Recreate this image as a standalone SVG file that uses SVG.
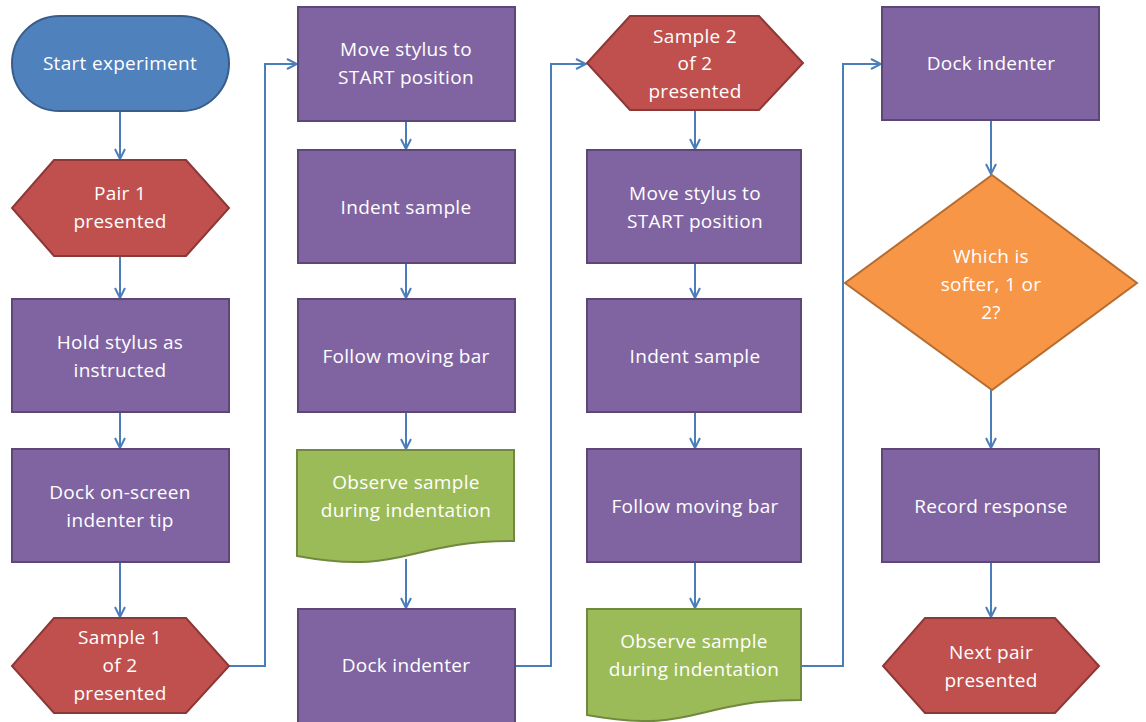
<svg xmlns="http://www.w3.org/2000/svg" width="1146" height="722" viewBox="0 0 1146 722">
  <defs>
    <marker id="arrow" viewBox="0 0 12 12" refX="11" refY="6" markerWidth="12" markerHeight="12" markerUnits="userSpaceOnUse" orient="auto">
      <path d="M1,1 L11,6 L1,11" fill="none" stroke="#4A7EBB" stroke-width="2"/>
    </marker>
    <style>
      .conn { fill: none; stroke: #4A7EBB; stroke-width: 2; marker-end: url(#arrow); }
      .start { fill: #4F81BD; stroke: #385D8A; stroke-width: 2; }
      .hex { fill: #C0504D; stroke: #8C3836; stroke-width: 2; }
      .proc { fill: #8064A2; stroke: #5C4776; stroke-width: 2; }
      .doc { fill: #9BBB59; stroke: #71893F; stroke-width: 2; }
      .dec { fill: #F79646; stroke: #B66D31; stroke-width: 2; }
      text { font-family: "Open Sans", Lato, "Liberation Sans", sans-serif; font-size: 19px; letter-spacing: 0.3px; fill: #FFFFFF; text-anchor: middle; dominant-baseline: central; }
    </style>
  </defs>
  <rect width="1146" height="722" fill="#FFFFFF"/>

  <!-- connectors -->
  <g id="connectors">
    <path class="conn" d="M120,111 L120,159"/>
    <path class="conn" d="M120,256 L120,298"/>
    <path class="conn" d="M120,412 L120,448"/>
    <path class="conn" d="M120,562 L120,617"/>
    <path class="conn" d="M229,666 L265,666 L265,64 L297,64"/>
    <path class="conn" d="M406,121 L406,149"/>
    <path class="conn" d="M406,263 L406,298"/>
    <path class="conn" d="M406,412 L406,449"/>
    <path class="conn" d="M406,559 L406,608"/>
    <path class="conn" d="M515,666 L551,666 L551,64 L586,64"/>
    <path class="conn" d="M695,110 L695,149"/>
    <path class="conn" d="M695,263 L695,298"/>
    <path class="conn" d="M695,412 L695,448"/>
    <path class="conn" d="M695,562 L695,608"/>
    <path class="conn" d="M801,666 L843,666 L843,64 L881,64"/>
    <path class="conn" d="M991,120 L991,174"/>
    <path class="conn" d="M991,390 L991,448"/>
    <path class="conn" d="M991,562 L991,617"/>
  </g>

  <!-- column 1 -->
  <g id="start-experiment">
    <rect class="start" x="12" y="16" width="217" height="95" rx="47.5" ry="47.5"/>
    <text x="120" y="63">Start experiment</text>
  </g>
  <g id="pair-1">
    <polygon class="hex" points="54,160 186,160 229,208 186,256 54,256 12,208"/>
    <text x="120" y="193">Pair 1</text>
    <text x="120" y="221">presented</text>
  </g>
  <g id="hold-stylus">
    <rect class="proc" x="12" y="299" width="217" height="113"/>
    <text x="120" y="342">Hold stylus as</text>
    <text x="120" y="370">instructed</text>
  </g>
  <g id="dock-tip">
    <rect class="proc" x="12" y="449" width="217" height="113"/>
    <text x="120" y="492">Dock on-screen</text>
    <text x="120" y="520">indenter tip</text>
  </g>
  <g id="sample-1">
    <polygon class="hex" points="54,618 186,618 229,666 186,713 54,713 12,666"/>
    <text x="120" y="637">Sample 1</text>
    <text x="120" y="665">of 2</text>
    <text x="120" y="693">presented</text>
  </g>

  <!-- column 2 -->
  <g id="move-stylus-1">
    <rect class="proc" x="298" y="7" width="217" height="114"/>
    <text x="406" y="49">Move stylus to</text>
    <text x="406" y="77">START position</text>
  </g>
  <g id="indent-1">
    <rect class="proc" x="298" y="150" width="217" height="113"/>
    <text x="406" y="207">Indent sample</text>
  </g>
  <g id="follow-bar-1">
    <rect class="proc" x="298" y="299" width="217" height="113"/>
    <text x="406" y="356">Follow moving bar</text>
  </g>
  <g id="observe-1">
    <path class="doc" d="M297,450 L514,450 L514,541 C405.5,541 405.5,575.7 297,556 Z"/>
    <text x="406" y="482">Observe sample</text>
    <text x="406" y="510">during indentation</text>
  </g>
  <g id="dock-indenter-1">
    <rect class="proc" x="298" y="609" width="217" height="114"/>
    <text x="406" y="665">Dock indenter</text>
  </g>

  <!-- column 3 -->
  <g id="sample-2">
    <polygon class="hex" points="630,16 759,16 803,63 759,110 630,110 587,63"/>
    <text x="695" y="36">Sample 2</text>
    <text x="695" y="63">of 2</text>
    <text x="695" y="91">presented</text>
  </g>
  <g id="move-stylus-2">
    <rect class="proc" x="587" y="150" width="214" height="113"/>
    <text x="695" y="193">Move stylus to</text>
    <text x="695" y="221">START position</text>
  </g>
  <g id="indent-2">
    <rect class="proc" x="587" y="299" width="214" height="113"/>
    <text x="695" y="356">Indent sample</text>
  </g>
  <g id="follow-bar-2">
    <rect class="proc" x="587" y="449" width="214" height="113"/>
    <text x="695" y="506">Follow moving bar</text>
  </g>
  <g id="observe-2">
    <path class="doc" d="M587,609 L801,609 L801,700 C694,700 694,734.7 587,715 Z"/>
    <text x="694" y="641">Observe sample</text>
    <text x="694" y="669">during indentation</text>
  </g>

  <!-- column 4 -->
  <g id="dock-indenter-2">
    <rect class="proc" x="882" y="7" width="217" height="113"/>
    <text x="991" y="63">Dock indenter</text>
  </g>
  <g id="which-softer">
    <polygon class="dec" points="992,175 1137,283 992,390 845,283"/>
    <text x="991" y="256">Which is</text>
    <text x="991" y="284">softer, 1 or</text>
    <text x="991" y="312">2?</text>
  </g>
  <g id="record-response">
    <rect class="proc" x="882" y="449" width="217" height="113"/>
    <text x="991" y="506">Record response</text>
  </g>
  <g id="next-pair">
    <polygon class="hex" points="925,618 1055,618 1099,666 1055,713 925,713 883,666"/>
    <text x="991" y="652">Next pair</text>
    <text x="991" y="680">presented</text>
  </g>
</svg>
